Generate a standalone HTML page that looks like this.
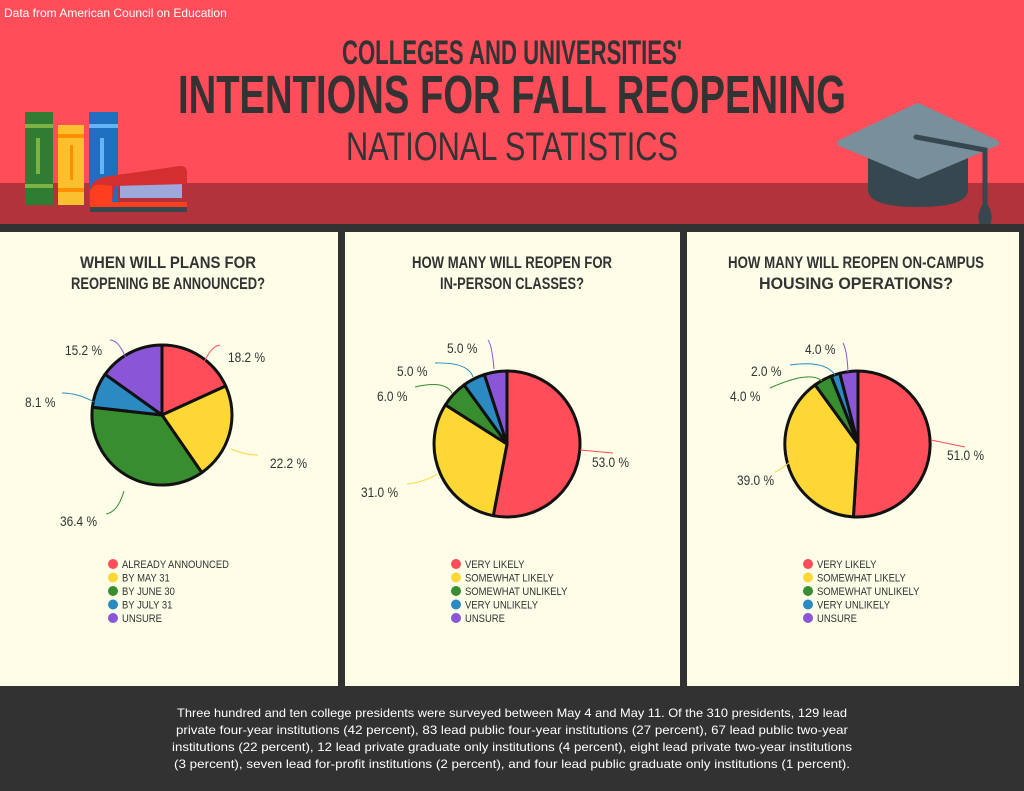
<!DOCTYPE html>
<html><head><meta charset="utf-8"><style>
html,body{margin:0;padding:0;background:#323232}
svg{display:block}
.n{font-family:"Liberation Sans Narrow","Liberation Sans",sans-serif}
</style></head><body>
<svg width="1024" height="791" viewBox="0 0 1024 791" xmlns="http://www.w3.org/2000/svg">
<rect x="0" y="0" width="1024" height="791" fill="#323232"/>
<rect x="0" y="0" width="1024" height="184" fill="#ff4d5a"/>
<rect x="0" y="183" width="1024" height="41" fill="#b2333c"/>
<text x="4" y="17" font-family="Liberation Sans, sans-serif" font-size="12" fill="#fff">Data from American Council on Education</text>
<g class="n" fill="#333" text-anchor="middle">
<text x="512" y="64" font-size="34" font-weight="bold" textLength="340" lengthAdjust="spacingAndGlyphs">COLLEGES AND UNIVERSITIES'</text>
<text x="512" y="113" font-size="54" font-weight="bold" textLength="668" lengthAdjust="spacingAndGlyphs">INTENTIONS FOR FALL REOPENING</text>
<text x="512" y="160" font-size="40" textLength="332" lengthAdjust="spacingAndGlyphs">NATIONAL STATISTICS</text>
</g>
<!-- books -->
<rect x="25" y="112" width="28" height="93" fill="#2e7d32"/>
<rect x="25" y="124" width="28" height="4" fill="#7cb342"/><rect x="25" y="184" width="28" height="4" fill="#7cb342"/>
<rect x="36" y="138" width="4" height="36" fill="#7cb342"/>
<rect x="58" y="125" width="26" height="80" fill="#fbc02d"/>
<rect x="58" y="134" width="26" height="4" fill="#ff8f00"/><rect x="58" y="188" width="26" height="4" fill="#ff8f00"/>
<rect x="70" y="145" width="3" height="35" fill="#ff8f00"/>
<rect x="89" y="112" width="29" height="93" fill="#1e6fc0"/>
<rect x="89" y="124" width="29" height="4" fill="#64b5f6"/>
<rect x="100" y="138" width="4" height="36" fill="#64b5f6"/>
<!-- stapler -->
<rect x="120" y="183" width="62" height="15" fill="#9fa8da"/>
<path d="M90 210 L90 190 Q92 178 110 176 L180 166 Q187 166 187 172 L187 184 L115 186 L112 202 L187 202 L187 210 Z" fill="#d32f2f"/>
<path d="M90 212 L90 192 Q92 183 105 185 L112 186 L112 202 L187 202 L187 212 Z" fill="#ff3d1f"/>
<rect x="90" y="207" width="97" height="5" fill="#37474f"/>
<!-- grad cap -->
<path d="M868 150 L868 190 Q868 207 918 207 Q968 207 968 190 L968 150 Z" fill="#37474f"/>
<path d="M918 106 L996 143 L918 176 L840 143 Z" fill="#78909c" stroke="#78909c" stroke-width="6" stroke-linejoin="round"/>
<path d="M916 137 L985 150 L985 205" fill="none" stroke="#37474f" stroke-width="5" stroke-linecap="round"/>
<path d="M985 200 Q975 215 980 225 L985 232 L990 225 Q995 215 985 200 Z" fill="#37474f"/>
<rect x="0" y="224" width="1024" height="8" fill="#323232"/>
<!-- panels -->
<rect x="0" y="232" width="338" height="454" fill="#fdfde8"/>
<rect x="345" y="232" width="335" height="454" fill="#fdfde8"/>
<rect x="687" y="232" width="332" height="454" fill="#fdfde8"/>
<g class="n" fill="#333" text-anchor="middle" font-size="17" font-weight="bold">
<text x="168" y="268" textLength="176" lengthAdjust="spacingAndGlyphs">WHEN WILL PLANS FOR</text>
<text x="168" y="289" textLength="194" lengthAdjust="spacingAndGlyphs">REOPENING BE ANNOUNCED?</text>
<text x="512" y="268" textLength="200" lengthAdjust="spacingAndGlyphs">HOW MANY WILL REOPEN FOR</text>
<text x="512" y="289" textLength="144" lengthAdjust="spacingAndGlyphs">IN-PERSON CLASSES?</text>
<text x="856" y="268" textLength="256" lengthAdjust="spacingAndGlyphs">HOW MANY WILL REOPEN ON-CAMPUS</text>
<text x="856" y="289" textLength="194" lengthAdjust="spacingAndGlyphs">HOUSING OPERATIONS?</text>
</g>
<!-- pie 1 -->
<g stroke="#111" stroke-width="3" stroke-linejoin="round">
<path d="M162 415 L162 345 A70 70 0 0 1 225.7 386 Z" fill="#ff4d5a"/>
<path d="M162 415 L225.7 386 A70 70 0 0 1 201.8 472.6 Z" fill="#fdd835"/>
<path d="M162 415 L201.8 472.6 A70 70 0 0 1 92.4 407.2 Z" fill="#388e2f"/>
<path d="M162 415 L92.4 407.2 A70 70 0 0 1 105.1 374.3 Z" fill="#2b8ac2"/>
<path d="M162 415 L105.1 374.3 A70 70 0 0 1 162 345 Z" fill="#8a55d6"/>
</g>
<g fill="none" stroke-width="1">
<path d="M201 369 Q210 346 220 345" stroke="#ff4d5a"/>
<path d="M231 449 Q245 455 258 455" stroke="#fdd835"/>
<path d="M124 491 Q118 512 106 514" stroke="#388e2f"/>
<path d="M94 402 Q78 393 62 393" stroke="#2b8ac2"/>
<path d="M128 364 Q120 340 110 340" stroke="#8a55d6"/>
</g>
<!-- pie 2 -->
<g stroke="#111" stroke-width="3" stroke-linejoin="round">
<path d="M507 444 L507 371 A73 73 0 1 1 493.3 515.7 Z" fill="#ff4d5a"/>
<path d="M507 444 L493.3 515.7 A73 73 0 0 1 445.4 404.9 Z" fill="#fdd835"/>
<path d="M507 444 L445.4 404.9 A73 73 0 0 1 464.1 384.9 Z" fill="#388e2f"/>
<path d="M507 444 L464.1 384.9 A73 73 0 0 1 484.4 374.6 Z" fill="#2b8ac2"/>
<path d="M507 444 L484.4 374.6 A73 73 0 0 1 507 371 Z" fill="#8a55d6"/>
</g>
<g fill="none" stroke-width="1">
<path d="M580 450 L613 453" stroke="#ff4d5a"/>
<path d="M437 474 Q425 482 407 484" stroke="#fdd835"/>
<path d="M452 393 Q445 380 415 387" stroke="#388e2f"/>
<path d="M473 377 Q468 362 435 363" stroke="#2b8ac2"/>
<path d="M494 369 Q492 345 488 340" stroke="#8a55d6"/>
</g>
<!-- pie 3 -->
<g stroke="#111" stroke-width="3" stroke-linejoin="round">
<path d="M858 444 L858 371 A73 73 0 1 1 853.4 516.9 Z" fill="#ff4d5a"/>
<path d="M858 444 L853.4 516.9 A73 73 0 0 1 815.1 384.9 Z" fill="#fdd835"/>
<path d="M858 444 L815.1 384.9 A73 73 0 0 1 831.1 376.1 Z" fill="#388e2f"/>
<path d="M858 444 L831.1 376.1 A73 73 0 0 1 839.8 373.3 Z" fill="#2b8ac2"/>
<path d="M858 444 L839.8 373.3 A73 73 0 0 1 858 371 Z" fill="#8a55d6"/>
</g>
<g fill="none" stroke-width="1">
<path d="M931 440 L965 447" stroke="#ff4d5a"/>
<path d="M790 462 Q780 470 775 472" stroke="#fdd835"/>
<path d="M822 381 Q810 370 770 388" stroke="#388e2f"/>
<path d="M835 375 Q825 360 790 365" stroke="#2b8ac2"/>
<path d="M848 372 Q847 350 843 343" stroke="#8a55d6"/>
</g>
<g class="n" fill="#333" font-size="14">
<text transform="translate(228,362) scale(0.85,1)">18.2 %</text>
<text transform="translate(270,468) scale(0.85,1)">22.2 %</text>
<text transform="translate(60,526) scale(0.85,1)">36.4 %</text>
<text transform="translate(25,407) scale(0.85,1)">8.1 %</text>
<text transform="translate(65,355) scale(0.85,1)">15.2 %</text>
<text transform="translate(592,467) scale(0.85,1)">53.0 %</text>
<text transform="translate(361,497) scale(0.85,1)">31.0 %</text>
<text transform="translate(377,401) scale(0.85,1)">6.0 %</text>
<text transform="translate(397,376) scale(0.85,1)">5.0 %</text>
<text transform="translate(447,353) scale(0.85,1)">5.0 %</text>
<text transform="translate(947,460) scale(0.85,1)">51.0 %</text>
<text transform="translate(737,485) scale(0.85,1)">39.0 %</text>
<text transform="translate(730,401) scale(0.85,1)">4.0 %</text>
<text transform="translate(751,376) scale(0.85,1)">2.0 %</text>
<text transform="translate(805,354) scale(0.85,1)">4.0 %</text>
</g>
<!-- legends -->
<g class="n" font-size="11" fill="#333">
<g transform="translate(113,564)">
<circle cx="0" cy="0" r="5" fill="#ff4d5a"/><text transform="translate(9,4) scale(0.86,1)">ALREADY ANNOUNCED</text>
<circle cx="0" cy="13.5" r="5" fill="#fdd835"/><text transform="translate(9,17.5) scale(0.86,1)">BY MAY 31</text>
<circle cx="0" cy="27" r="5" fill="#388e2f"/><text transform="translate(9,31) scale(0.86,1)">BY JUNE 30</text>
<circle cx="0" cy="40.5" r="5" fill="#2b8ac2"/><text transform="translate(9,44.5) scale(0.86,1)">BY JULY 31</text>
<circle cx="0" cy="54" r="5" fill="#8a55d6"/><text transform="translate(9,58) scale(0.86,1)">UNSURE</text>
</g>
<g transform="translate(456,564)">
<circle cx="0" cy="0" r="5" fill="#ff4d5a"/><text transform="translate(9,4) scale(0.86,1)">VERY LIKELY</text>
<circle cx="0" cy="13.5" r="5" fill="#fdd835"/><text transform="translate(9,17.5) scale(0.86,1)">SOMEWHAT LIKELY</text>
<circle cx="0" cy="27" r="5" fill="#388e2f"/><text transform="translate(9,31) scale(0.86,1)">SOMEWHAT UNLIKELY</text>
<circle cx="0" cy="40.5" r="5" fill="#2b8ac2"/><text transform="translate(9,44.5) scale(0.86,1)">VERY UNLIKELY</text>
<circle cx="0" cy="54" r="5" fill="#8a55d6"/><text transform="translate(9,58) scale(0.86,1)">UNSURE</text>
</g>
<g transform="translate(808,564)">
<circle cx="0" cy="0" r="5" fill="#ff4d5a"/><text transform="translate(9,4) scale(0.86,1)">VERY LIKELY</text>
<circle cx="0" cy="13.5" r="5" fill="#fdd835"/><text transform="translate(9,17.5) scale(0.86,1)">SOMEWHAT LIKELY</text>
<circle cx="0" cy="27" r="5" fill="#388e2f"/><text transform="translate(9,31) scale(0.86,1)">SOMEWHAT UNLIKELY</text>
<circle cx="0" cy="40.5" r="5" fill="#2b8ac2"/><text transform="translate(9,44.5) scale(0.86,1)">VERY UNLIKELY</text>
<circle cx="0" cy="54" r="5" fill="#8a55d6"/><text transform="translate(9,58) scale(0.86,1)">UNSURE</text>
</g>
</g>
<!-- footer -->
<g font-family="Liberation Sans, sans-serif" font-size="12" fill="#fff" text-anchor="middle">
<text x="512" y="717" textLength="670" lengthAdjust="spacingAndGlyphs">Three hundred and ten college presidents were surveyed between May 4 and May 11. Of the 310 presidents, 129 lead</text>
<text x="512" y="734" textLength="672" lengthAdjust="spacingAndGlyphs">private four-year institutions (42 percent), 83 lead public four-year institutions (27 percent), 67 lead public two-year</text>
<text x="512" y="751" textLength="680" lengthAdjust="spacingAndGlyphs">institutions (22 percent), 12 lead private graduate only institutions (4 percent), eight lead private two-year institutions</text>
<text x="512" y="768" textLength="676" lengthAdjust="spacingAndGlyphs">(3 percent), seven lead for-profit institutions (2 percent), and four lead public graduate only institutions (1 percent).</text>
</g>
</svg>
</body></html>
